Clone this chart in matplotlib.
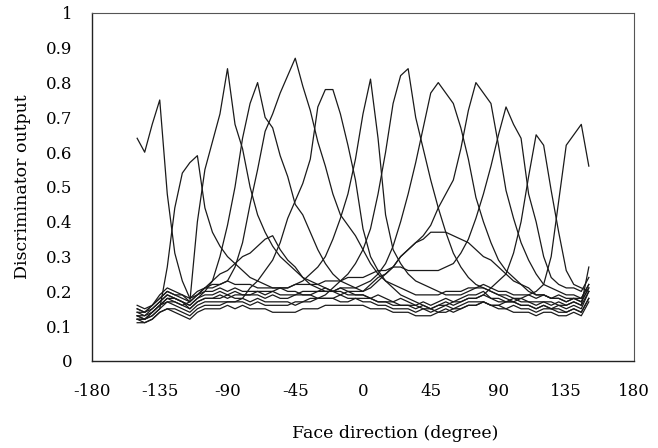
import numpy as np
import matplotlib
matplotlib.use('Agg')
import matplotlib.pyplot as plt

# face direction grid (degree), 5 degree step
angles = np.arange(-150, 151, 5)

# discriminator outputs, one list per trained direction
out_m135 = [0.64, 0.60, 0.68, 0.75, 0.48, 0.31, 0.23, 0.18, 0.19, 0.21,
            0.23, 0.25, 0.26, 0.28, 0.30, 0.31, 0.33, 0.35, 0.36, 0.32,
            0.29, 0.27, 0.24, 0.22, 0.21, 0.20, 0.20, 0.19, 0.20, 0.19,
            0.19, 0.18, 0.19, 0.18, 0.17, 0.18, 0.17, 0.16, 0.17, 0.16,
            0.17, 0.18, 0.17, 0.18, 0.19, 0.19, 0.20, 0.18, 0.18, 0.17,
            0.18, 0.17, 0.17, 0.16, 0.17, 0.16, 0.17, 0.16, 0.17, 0.16,
            0.27]
out_m115 = [0.12, 0.12, 0.13, 0.15, 0.27, 0.44, 0.54, 0.57, 0.59, 0.44,
            0.37, 0.33, 0.30, 0.28, 0.26, 0.24, 0.23, 0.22, 0.21, 0.21,
            0.20, 0.20, 0.19, 0.19, 0.18, 0.18, 0.18, 0.17, 0.17, 0.18,
            0.17, 0.17, 0.16, 0.16, 0.15, 0.15, 0.15, 0.14, 0.15, 0.14,
            0.15, 0.16, 0.15, 0.16, 0.17, 0.17, 0.17, 0.16, 0.16, 0.15,
            0.16, 0.15, 0.15, 0.14, 0.15, 0.15, 0.14, 0.14, 0.15, 0.14,
            0.18]
out_m90 = [0.13, 0.12, 0.14, 0.16, 0.17, 0.17, 0.16, 0.17, 0.40, 0.55,
           0.63, 0.71, 0.84, 0.68, 0.61, 0.50, 0.42, 0.37, 0.33, 0.30,
           0.28, 0.26, 0.24, 0.23, 0.22, 0.21, 0.20, 0.20, 0.19, 0.19,
           0.19, 0.18, 0.17, 0.17, 0.16, 0.16, 0.16, 0.15, 0.16, 0.15,
           0.16, 0.17, 0.16, 0.17, 0.18, 0.18, 0.19, 0.18, 0.17, 0.17,
           0.17, 0.16, 0.16, 0.15, 0.16, 0.15, 0.16, 0.15, 0.16, 0.15,
           0.20]
out_m70 = [0.14, 0.14, 0.15, 0.17, 0.19, 0.18, 0.17, 0.16, 0.18, 0.20,
           0.23, 0.30, 0.39, 0.50, 0.64, 0.74, 0.80, 0.70, 0.67, 0.59,
           0.53, 0.45, 0.42, 0.37, 0.32, 0.28, 0.25, 0.23, 0.22, 0.21,
           0.20, 0.21, 0.23, 0.25, 0.27, 0.30, 0.32, 0.34, 0.35, 0.37,
           0.37, 0.37, 0.36, 0.35, 0.34, 0.32, 0.30, 0.29, 0.27, 0.25,
           0.23, 0.22, 0.20, 0.19, 0.19, 0.18, 0.18, 0.17, 0.18, 0.17,
           0.21]
out_m45 = [0.15, 0.14, 0.16, 0.18, 0.20, 0.19, 0.19, 0.17, 0.19, 0.21,
           0.21, 0.22, 0.23, 0.27, 0.34, 0.45, 0.55, 0.66, 0.71, 0.77,
           0.82, 0.87, 0.79, 0.72, 0.63, 0.56, 0.48, 0.42, 0.39, 0.36,
           0.32, 0.28, 0.25, 0.23, 0.22, 0.21, 0.20, 0.19, 0.19, 0.19,
           0.19, 0.20, 0.20, 0.20, 0.21, 0.21, 0.22, 0.21, 0.20, 0.20,
           0.19, 0.19, 0.19, 0.18, 0.19, 0.18, 0.19, 0.18, 0.18, 0.18,
           0.22]
out_m25 = [0.12, 0.11, 0.12, 0.14, 0.15, 0.15, 0.14, 0.13, 0.15, 0.16,
           0.16, 0.16, 0.17, 0.17, 0.18, 0.21, 0.23, 0.26, 0.29, 0.34,
           0.41, 0.46, 0.51, 0.58, 0.73, 0.78, 0.78, 0.71, 0.62, 0.52,
           0.38, 0.30, 0.26, 0.23, 0.21, 0.19, 0.18, 0.17, 0.16, 0.15,
           0.14, 0.15, 0.14, 0.15, 0.16, 0.16, 0.17, 0.16, 0.15, 0.15,
           0.14, 0.14, 0.14, 0.13, 0.14, 0.14, 0.13, 0.13, 0.14, 0.13,
           0.17]
out_p5 = [0.13, 0.13, 0.14, 0.16, 0.18, 0.18, 0.17, 0.15, 0.17, 0.18,
          0.18, 0.19, 0.18, 0.19, 0.19, 0.19, 0.20, 0.20, 0.20, 0.21,
          0.21, 0.22, 0.23, 0.25, 0.27, 0.30, 0.35, 0.41, 0.48, 0.58,
          0.71, 0.81, 0.64, 0.42, 0.32, 0.28, 0.25, 0.23, 0.22, 0.21,
          0.20, 0.19, 0.19, 0.19, 0.20, 0.21, 0.21, 0.20, 0.19, 0.19,
          0.18, 0.18, 0.17, 0.17, 0.17, 0.17, 0.16, 0.16, 0.17, 0.16,
          0.20]
out_p30 = [0.12, 0.12, 0.13, 0.15, 0.17, 0.16, 0.15, 0.14, 0.16, 0.17,
           0.17, 0.17, 0.17, 0.17, 0.17, 0.16, 0.17, 0.16, 0.16, 0.16,
           0.16, 0.17, 0.17, 0.18, 0.18, 0.19, 0.21, 0.23, 0.25, 0.28,
           0.32, 0.38, 0.48, 0.60, 0.74, 0.82, 0.84, 0.70, 0.61, 0.52,
           0.44, 0.37, 0.31, 0.27, 0.24, 0.22, 0.21, 0.20, 0.19, 0.18,
           0.17, 0.16, 0.16, 0.15, 0.16, 0.15, 0.15, 0.14, 0.15, 0.14,
           0.18]
out_p50 = [0.14, 0.13, 0.15, 0.17, 0.19, 0.18, 0.17, 0.16, 0.18, 0.19,
           0.19, 0.20, 0.19, 0.20, 0.19, 0.19, 0.19, 0.18, 0.19, 0.18,
           0.18, 0.19, 0.19, 0.19, 0.20, 0.20, 0.20, 0.21, 0.21, 0.21,
           0.22, 0.23, 0.25, 0.28, 0.33, 0.40, 0.48, 0.57, 0.67, 0.77,
           0.80, 0.77, 0.74, 0.67, 0.58, 0.47, 0.40, 0.34, 0.29, 0.26,
           0.24, 0.22, 0.21, 0.19, 0.19, 0.18, 0.18, 0.17, 0.18, 0.17,
           0.21]
out_p75 = [0.15, 0.14, 0.16, 0.18, 0.20, 0.19, 0.18, 0.17, 0.19, 0.20,
           0.20, 0.21, 0.20, 0.21, 0.20, 0.20, 0.20, 0.19, 0.20, 0.19,
           0.19, 0.19, 0.20, 0.20, 0.20, 0.21, 0.20, 0.21, 0.20, 0.20,
           0.20, 0.22, 0.24, 0.25, 0.27, 0.30, 0.32, 0.34, 0.36, 0.39,
           0.44, 0.48, 0.52, 0.61, 0.72, 0.80, 0.77, 0.74, 0.62, 0.49,
           0.41, 0.34, 0.29, 0.25, 0.22, 0.21, 0.20, 0.19, 0.19, 0.18,
           0.22]
out_p95 = [0.16, 0.15, 0.16, 0.19, 0.21, 0.20, 0.19, 0.18, 0.20, 0.21,
           0.22, 0.22, 0.23, 0.22, 0.22, 0.22, 0.21, 0.21, 0.21, 0.21,
           0.21, 0.22, 0.22, 0.22, 0.22, 0.23, 0.23, 0.23, 0.24, 0.24,
           0.24, 0.25, 0.26, 0.26, 0.27, 0.27, 0.26, 0.26, 0.26, 0.26,
           0.26, 0.27, 0.28, 0.31, 0.35, 0.41, 0.48, 0.56, 0.65, 0.73,
           0.68, 0.64, 0.48, 0.40, 0.30, 0.24, 0.22, 0.21, 0.21, 0.20,
           0.24]
out_p115 = [0.13, 0.12, 0.14, 0.16, 0.18, 0.17, 0.16, 0.15, 0.17, 0.18,
            0.18, 0.18, 0.19, 0.18, 0.18, 0.17, 0.18, 0.17, 0.17, 0.17,
            0.17, 0.16, 0.17, 0.17, 0.18, 0.18, 0.18, 0.19, 0.18, 0.18,
            0.18, 0.18, 0.17, 0.17, 0.17, 0.16, 0.16, 0.16, 0.15, 0.15,
            0.16, 0.16, 0.17, 0.17, 0.18, 0.18, 0.19, 0.21, 0.23, 0.25,
            0.31, 0.40, 0.53, 0.65, 0.62, 0.49, 0.37, 0.26, 0.22, 0.21,
            0.20]
out_p140 = [0.11, 0.11, 0.12, 0.14, 0.15, 0.14, 0.13, 0.12, 0.14, 0.15,
            0.15, 0.15, 0.16, 0.15, 0.16, 0.15, 0.15, 0.15, 0.14, 0.14,
            0.14, 0.14, 0.15, 0.15, 0.15, 0.16, 0.16, 0.16, 0.16, 0.16,
            0.16, 0.15, 0.15, 0.15, 0.14, 0.14, 0.14, 0.13, 0.13, 0.13,
            0.14, 0.14, 0.15, 0.15, 0.16, 0.16, 0.17, 0.16, 0.16, 0.17,
            0.17, 0.18, 0.19, 0.20, 0.22, 0.30, 0.46, 0.62, 0.65, 0.68,
            0.56]

curves = [out_m135, out_m115, out_m90, out_m70, out_m45, out_m25, out_p5,
          out_p30, out_p50, out_p75, out_p95, out_p115, out_p140]

x_ticks = [-180, -135, -90, -45, 0, 45, 90, 135, 180]
y_ticks = [0, 0.1, 0.2, 0.3, 0.4, 0.5, 0.6, 0.7, 0.8, 0.9, 1]
y_tick_labels = ['0', '0.1', '0.2', '0.3', '0.4', '0.5', '0.6', '0.7', '0.8', '0.9', '1']

# wide serif, closer to the scanned label widths than a Times clone
plt.rcParams['font.family'] = ['DejaVu Serif']

fig = plt.figure(figsize=(6.58, 4.48), dpi=100)
ax = fig.add_axes([0.1398, 0.1942, 0.8237, 0.7768])

for y in curves:
    ax.plot(angles, y, color='#1a1a1a', linewidth=0.9)

ax.set_xlim(-180, 180)
ax.set_ylim(0, 1)
ax.set_xticks(x_ticks)
ax.set_xticklabels([str(t) for t in x_ticks])
ax.set_yticks(y_ticks)
ax.set_yticklabels(y_tick_labels)
ax.tick_params(axis='both', length=0, labelsize=12)
ax.tick_params(axis='x', pad=16)
ax.tick_params(axis='y', pad=14)

for side in ['left', 'bottom']:
    ax.spines[side].set_color('#222222')
    ax.spines[side].set_linewidth(1.0)
for side in ['top', 'right']:
    ax.spines[side].set_color('#555555')
    ax.spines[side].set_linewidth(0.8)

ax.set_xlabel('Face direction (degree)', fontsize=12.5)
ax.xaxis.set_label_coords(0.559, -0.183)
ax.set_ylabel('Discriminator output', fontsize=12.5, labelpad=11)

plt.savefig('out.png', dpi=100)
